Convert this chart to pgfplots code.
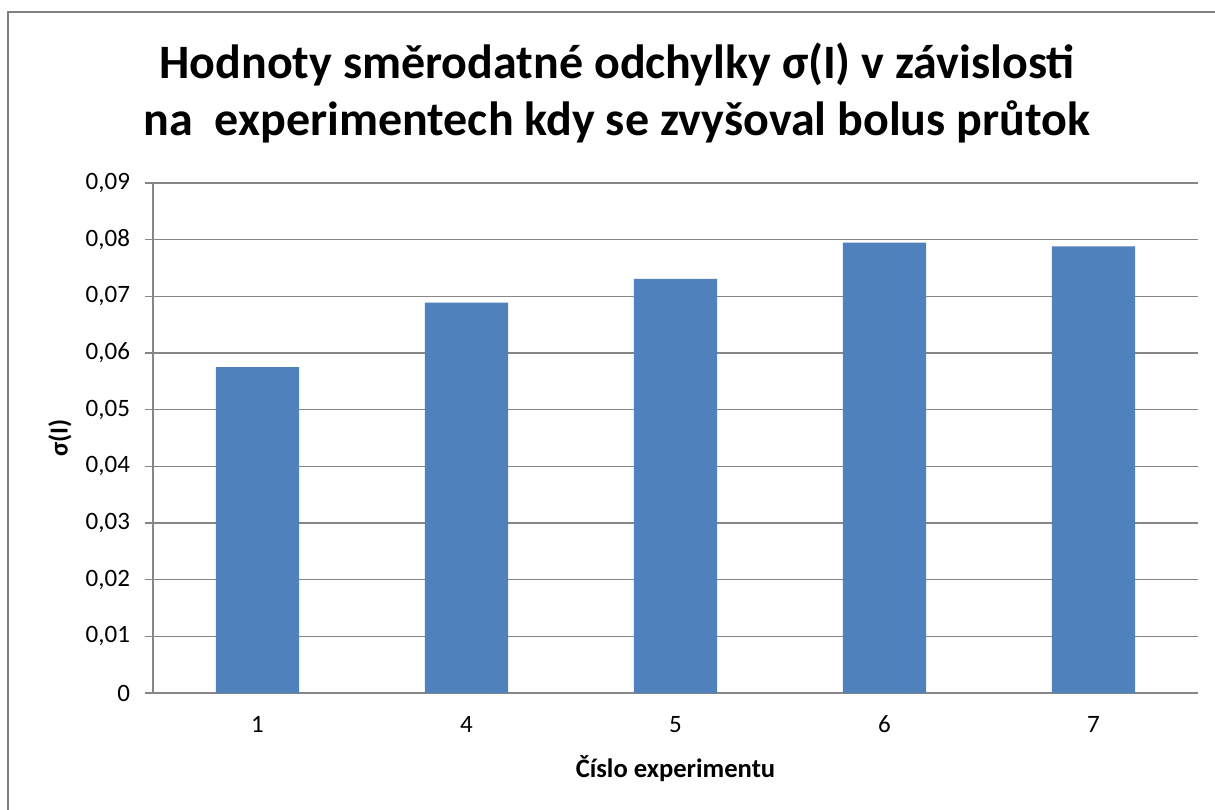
\documentclass[border=0pt]{standalone}
\usepackage{pgfplots}
\pgfplotsset{compat=1.18}
\usepackage{fontspec}
\setmainfont{Carlito}
\definecolor{barblue}{HTML}{4F81BD}
\definecolor{gridgray}{HTML}{868686}
\definecolor{framegray}{HTML}{808080}
\begin{document}
\begin{tikzpicture}
\useasboundingbox (0,0) rectangle (607.5pt,-404.5pt);
\clip (0,0) rectangle (607.5pt,-404.5pt);
\fill[white] (0,0) rectangle (607.5pt,-404.5pt);
\draw[framegray, line width=0.8pt] (4pt,-420pt) -- (4pt,-6pt) -- (620pt,-6pt);
\begin{axis}[
  at={(76.5pt,-346.5pt)}, anchor=south west,
  scale only axis, width=522.5pt, height=255pt,
  xmin=0.5, xmax=5.5, ymin=0, ymax=0.09,
  xtick={1,2,3,4,5}, xticklabels={1,4,5,6,7},
  ytick={0,0.01,0.02,0.03,0.04,0.05,0.06,0.07,0.08,0.09},
  yticklabels={0,{0,01},{0,02},{0,03},{0,04},{0,05},{0,06},{0,07},{0,08},{0,09}},
  scaled y ticks=false,
  /pgf/number format/assume math mode=true,
  axis x line*=bottom, axis y line*=left,
  axis line style={gridgray, line width=0.75pt},
  ymajorgrids, grid style={gridgray, line width=0.75pt},
  tick align=outside, major tick length=4pt,
  ytick style={gridgray, line width=0.75pt},
  xtick style={draw=none},
  tick label style={font=\fontsize{12.5}{15}\selectfont, text=black},
  yticklabel style={xshift=-4pt},
  xticklabel style={yshift=-4pt},
  ybar, bar width=41.7pt,
  clip=false,
]
\addplot[fill=barblue, draw=none] coordinates {
  (1,0.0575) (2,0.0689) (3,0.0731) (4,0.0795) (5,0.0788)
};
\end{axis}
\node[anchor=base, font=\fontsize{24}{28}\selectfont\bfseries] at (308.5pt,-39pt) {Hodnoty směrodatné odchylky σ(I) v závislosti};
\node[anchor=base, font=\fontsize{24}{28}\selectfont\bfseries] at (308.5pt,-67.5pt) {na\ \ experimentech kdy se zvyšoval bolus průtok};
\node[anchor=base, font=\fontsize{13.3}{15}\selectfont\bfseries] at (337.75pt,-388.5pt) {Číslo experimentu};
\node[rotate=90, font=\fontsize{13}{15}\selectfont\bfseries] at (30pt,-219pt) {σ(I)};
\end{tikzpicture}
\end{document}
